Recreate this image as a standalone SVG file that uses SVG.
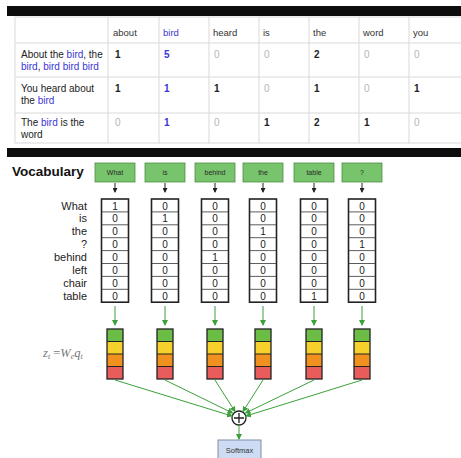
<svg xmlns="http://www.w3.org/2000/svg" width="461" height="458" viewBox="0 0 461 458">
<defs>
<style>
.bar{fill:#0d0d0d}
.tl{stroke:#d9d9d9;stroke-width:1;fill:none}
.tt{font-family:"Liberation Sans",Arial,sans-serif;font-size:10px;fill:#222}
.hd{font-family:"Liberation Sans",Arial,sans-serif;font-size:9.5px;fill:#333}
.bl{fill:#3a36d6}
.gz{fill:#b5b5b5}
.vb{font-family:"Liberation Sans",Arial,sans-serif;font-size:13.5px;font-weight:bold;fill:#111}
.gb{fill:#78c46c;stroke:#4e8e45;stroke-width:0.8}
.gt{font-family:"Liberation Sans",Arial,sans-serif;font-size:7px;fill:#2a2a2a;text-anchor:middle}
.lab{font-family:"Liberation Sans",Arial,sans-serif;font-size:11px;fill:#222;text-anchor:end}
.vo{fill:#fff;stroke:#222;stroke-width:1.6}
.vs{stroke:#333;stroke-width:0.8}
.vd{font-family:"Liberation Sans",Arial,sans-serif;font-size:10px;fill:#222;text-anchor:middle}
.ka{stroke:#222;stroke-width:1;fill:none}
.ga{stroke:#3aa03a;stroke-width:1;fill:none}
.sg{fill:#6cbd45}.sy{fill:#f6d02b}.so{fill:#f0901f}.sr{fill:#e85c5c}
.so2{fill:none;stroke:#222;stroke-width:1.3}
.sl{stroke:#222;stroke-width:1}
.fm{font-family:"Liberation Serif","Times New Roman",serif;font-size:12.5px;fill:#777;font-style:italic}
</style>
<marker id="ak" markerWidth="5" markerHeight="5" refX="4" refY="2.5" orient="auto" markerUnits="userSpaceOnUse"><path d="M0,0 L5,2.5 L0,5 z" fill="#222"/></marker>
<marker id="ag" markerWidth="6" markerHeight="6" refX="5" refY="3" orient="auto" markerUnits="userSpaceOnUse"><path d="M0,0 L6,3 L0,6 z" fill="#3aa03a"/></marker>
</defs>
<rect width="461" height="458" fill="#fff"/>
<g id="bars">
<rect class="bar" x="7" y="6" width="454" height="10"/>
<rect class="bar" x="7" y="148" width="454" height="9"/>
</g>
<g id="table">
<rect x="15" y="17" width="460" height="126" class="tl"/>
<path class="tl" d="M15,43H461M15,77H461M15,113H461M108,17V143M159,17V143M209,17V143M259,17V143M309,17V143M359,17V143M409,17V143"/>
<text class="hd" x="113" y="36">about</text>
<text class="hd bl" x="163" y="36">bird</text>
<text class="hd" x="213" y="36">heard</text>
<text class="hd" x="263" y="36">is</text>
<text class="hd" x="313" y="36">the</text>
<text class="hd" x="363" y="36">word</text>
<text class="hd" x="413" y="36">you</text>
<text class="tt" x="21" y="58">About the <tspan class="bl">bird</tspan>, the</text>
<text class="tt" x="21" y="70"><tspan class="bl">bird</tspan>, <tspan class="bl">bird bird bird</tspan></text>
<text class="tt" x="21" y="92">You heard about</text>
<text class="tt" x="21" y="104">the <tspan class="bl">bird</tspan></text>
<text class="tt" x="21" y="126">The <tspan class="bl">bird</tspan> is the</text>
<text class="tt" x="21" y="138">word</text>
<g class="tt" font-weight="bold">
<text x="115" y="58">1</text><text x="164" y="58" class="bl">5</text><text x="214" y="58" class="gz" font-weight="normal">0</text><text x="264" y="58" class="gz" font-weight="normal">0</text><text x="314" y="58">2</text><text x="364" y="58" class="gz" font-weight="normal">0</text><text x="414" y="58" class="gz" font-weight="normal">0</text>
<text x="115" y="92">1</text><text x="164" y="92" class="bl">1</text><text x="214" y="92">1</text><text x="264" y="92" class="gz" font-weight="normal">0</text><text x="314" y="92">1</text><text x="364" y="92" class="gz" font-weight="normal">0</text><text x="414" y="92">1</text>
<text x="115" y="126" class="gz" font-weight="normal">0</text><text x="164" y="126" class="bl">1</text><text x="214" y="126" class="gz" font-weight="normal">0</text><text x="264" y="126">1</text><text x="314" y="126">2</text><text x="364" y="126">1</text><text x="414" y="126" class="gz" font-weight="normal">0</text>
</g>
</g>
<text class="vb" x="12" y="176">Vocabulary</text>
<g id="vocab-labels">
<text class="lab" x="87" y="209.5">What</text>
<text class="lab" x="87" y="222.4">is</text>
<text class="lab" x="87" y="235.3">the</text>
<text class="lab" x="87" y="248.2">?</text>
<text class="lab" x="87" y="261.1">behind</text>
<text class="lab" x="87" y="274">left</text>
<text class="lab" x="87" y="286.9">chair</text>
<text class="lab" x="87" y="299.8">table</text>
</g>
<text class="fm" x="43" y="357">z<tspan font-size="8" dy="2">t</tspan><tspan dy="-2" font-style="normal"> =</tspan>W<tspan font-size="8" dy="2">e</tspan><tspan dy="-2">q</tspan><tspan font-size="8" dy="2">t</tspan></text>
<g id="word-What">
<rect class="gb" x="95" y="163" width="40" height="19"/><text class="gt" x="115" y="175">What</text>
<rect class="vo" x="101.5" y="199" width="27" height="103.2"/>
<path class="vs" d="M101.5,211.9h27M101.5,224.8h27M101.5,237.7h27M101.5,250.6h27M101.5,263.5h27M101.5,276.4h27M101.5,289.3h27"/>
<g class="vd"><text x="115" y="209.5">1</text><text x="115" y="222.4">0</text><text x="115" y="235.3">0</text><text x="115" y="248.2">0</text><text x="115" y="261.1">0</text><text x="115" y="274">0</text><text x="115" y="286.9">0</text><text x="115" y="299.8">0</text></g>
<g transform="translate(107,329)"><rect class="sg" width="16" height="12.5"/><rect class="sy" y="12.5" width="16" height="12.5"/><rect class="so" y="25" width="16" height="12.5"/><rect class="sr" y="37.5" width="16" height="12.5"/><path class="sl" d="M0,12.5h16M0,25h16M0,37.5h16"/><rect class="so2" width="16" height="50"/></g>
</g>
<g id="word-is">
<rect class="gb" x="145" y="163" width="40" height="19"/><text class="gt" x="165" y="175">is</text>
<rect class="vo" x="151.5" y="199" width="27" height="103.2"/>
<path class="vs" d="M151.5,211.9h27M151.5,224.8h27M151.5,237.7h27M151.5,250.6h27M151.5,263.5h27M151.5,276.4h27M151.5,289.3h27"/>
<g class="vd"><text x="165" y="209.5">0</text><text x="165" y="222.4">1</text><text x="165" y="235.3">0</text><text x="165" y="248.2">0</text><text x="165" y="261.1">0</text><text x="165" y="274">0</text><text x="165" y="286.9">0</text><text x="165" y="299.8">0</text></g>
<g transform="translate(157,329)"><rect class="sg" width="16" height="12.5"/><rect class="sy" y="12.5" width="16" height="12.5"/><rect class="so" y="25" width="16" height="12.5"/><rect class="sr" y="37.5" width="16" height="12.5"/><path class="sl" d="M0,12.5h16M0,25h16M0,37.5h16"/><rect class="so2" width="16" height="50"/></g>
</g>
<g id="word-behind">
<rect class="gb" x="195" y="163" width="40" height="19"/><text class="gt" x="215" y="175">behind</text>
<rect class="vo" x="201.5" y="199" width="27" height="103.2"/>
<path class="vs" d="M201.5,211.9h27M201.5,224.8h27M201.5,237.7h27M201.5,250.6h27M201.5,263.5h27M201.5,276.4h27M201.5,289.3h27"/>
<g class="vd"><text x="215" y="209.5">0</text><text x="215" y="222.4">0</text><text x="215" y="235.3">0</text><text x="215" y="248.2">0</text><text x="215" y="261.1">1</text><text x="215" y="274">0</text><text x="215" y="286.9">0</text><text x="215" y="299.8">0</text></g>
<g transform="translate(207,329)"><rect class="sg" width="16" height="12.5"/><rect class="sy" y="12.5" width="16" height="12.5"/><rect class="so" y="25" width="16" height="12.5"/><rect class="sr" y="37.5" width="16" height="12.5"/><path class="sl" d="M0,12.5h16M0,25h16M0,37.5h16"/><rect class="so2" width="16" height="50"/></g>
</g>
<g id="word-the">
<rect class="gb" x="243" y="163" width="40" height="19"/><text class="gt" x="263" y="175">the</text>
<rect class="vo" x="249.5" y="199" width="27" height="103.2"/>
<path class="vs" d="M249.5,211.9h27M249.5,224.8h27M249.5,237.7h27M249.5,250.6h27M249.5,263.5h27M249.5,276.4h27M249.5,289.3h27"/>
<g class="vd"><text x="263" y="209.5">0</text><text x="263" y="222.4">0</text><text x="263" y="235.3">1</text><text x="263" y="248.2">0</text><text x="263" y="261.1">0</text><text x="263" y="274">0</text><text x="263" y="286.9">0</text><text x="263" y="299.8">0</text></g>
<g transform="translate(255,329)"><rect class="sg" width="16" height="12.5"/><rect class="sy" y="12.5" width="16" height="12.5"/><rect class="so" y="25" width="16" height="12.5"/><rect class="sr" y="37.5" width="16" height="12.5"/><path class="sl" d="M0,12.5h16M0,25h16M0,37.5h16"/><rect class="so2" width="16" height="50"/></g>
</g>
<g id="word-table">
<rect class="gb" x="294" y="163" width="40" height="19"/><text class="gt" x="314" y="175">table</text>
<rect class="vo" x="300.5" y="199" width="27" height="103.2"/>
<path class="vs" d="M300.5,211.9h27M300.5,224.8h27M300.5,237.7h27M300.5,250.6h27M300.5,263.5h27M300.5,276.4h27M300.5,289.3h27"/>
<g class="vd"><text x="314" y="209.5">0</text><text x="314" y="222.4">0</text><text x="314" y="235.3">0</text><text x="314" y="248.2">0</text><text x="314" y="261.1">0</text><text x="314" y="274">0</text><text x="314" y="286.9">0</text><text x="314" y="299.8">1</text></g>
<g transform="translate(306,329)"><rect class="sg" width="16" height="12.5"/><rect class="sy" y="12.5" width="16" height="12.5"/><rect class="so" y="25" width="16" height="12.5"/><rect class="sr" y="37.5" width="16" height="12.5"/><path class="sl" d="M0,12.5h16M0,25h16M0,37.5h16"/><rect class="so2" width="16" height="50"/></g>
</g>
<g id="word-q">
<rect class="gb" x="342" y="163" width="40" height="19"/><text class="gt" x="362" y="175">?</text>
<rect class="vo" x="348.5" y="199" width="27" height="103.2"/>
<path class="vs" d="M348.5,211.9h27M348.5,224.8h27M348.5,237.7h27M348.5,250.6h27M348.5,263.5h27M348.5,276.4h27M348.5,289.3h27"/>
<g class="vd"><text x="362" y="209.5">0</text><text x="362" y="222.4">0</text><text x="362" y="235.3">0</text><text x="362" y="248.2">1</text><text x="362" y="261.1">0</text><text x="362" y="274">0</text><text x="362" y="286.9">0</text><text x="362" y="299.8">0</text></g>
<g transform="translate(354,329)"><rect class="sg" width="16" height="12.5"/><rect class="sy" y="12.5" width="16" height="12.5"/><rect class="so" y="25" width="16" height="12.5"/><rect class="sr" y="37.5" width="16" height="12.5"/><path class="sl" d="M0,12.5h16M0,25h16M0,37.5h16"/><rect class="so2" width="16" height="50"/></g>
</g>
<g id="sum">
<circle cx="239" cy="418" r="7" fill="#fff" stroke="#222" stroke-width="1.3"/>
<path d="M234,418h10M239,413v10" stroke="#222" stroke-width="1.3"/>
</g>
<g id="softmax">
<rect x="218" y="440" width="43" height="20" fill="#cddcf3" stroke="#7d8ea8" stroke-width="1"/>
<text x="239.5" y="453" font-family="'Liberation Sans',Arial,sans-serif" font-size="7.5" fill="#333" text-anchor="middle">Softmax</text>
</g>
<g id="connectors">
<path class="ka" marker-end="url(#ak)" d="M115,183V192"/>
<path class="ka" marker-end="url(#ak)" d="M165,183V192"/>
<path class="ka" marker-end="url(#ak)" d="M215,183V192"/>
<path class="ka" marker-end="url(#ak)" d="M263,183V192"/>
<path class="ka" marker-end="url(#ak)" d="M314,183V192"/>
<path class="ka" marker-end="url(#ak)" d="M362,183V192"/>
<path class="ga" marker-end="url(#ag)" d="M115,306V325"/>
<path class="ga" marker-end="url(#ag)" d="M165,306V325"/>
<path class="ga" marker-end="url(#ag)" d="M215,306V325"/>
<path class="ga" marker-end="url(#ag)" d="M263,306V325"/>
<path class="ga" marker-end="url(#ag)" d="M314,306V325"/>
<path class="ga" marker-end="url(#ag)" d="M362,306V325"/>
<path class="ga" marker-end="url(#ag)" d="M115,380L232,416"/>
<path class="ga" marker-end="url(#ag)" d="M165,380L232.5,413"/>
<path class="ga" marker-end="url(#ag)" d="M215,380L235,411.5"/>
<path class="ga" marker-end="url(#ag)" d="M263,380L243,411.5"/>
<path class="ga" marker-end="url(#ag)" d="M314,380L245.5,413"/>
<path class="ga" marker-end="url(#ag)" d="M362,380L246,416"/>
<path class="ga" marker-end="url(#ag)" d="M239,425V439"/>
</g>
</svg>
